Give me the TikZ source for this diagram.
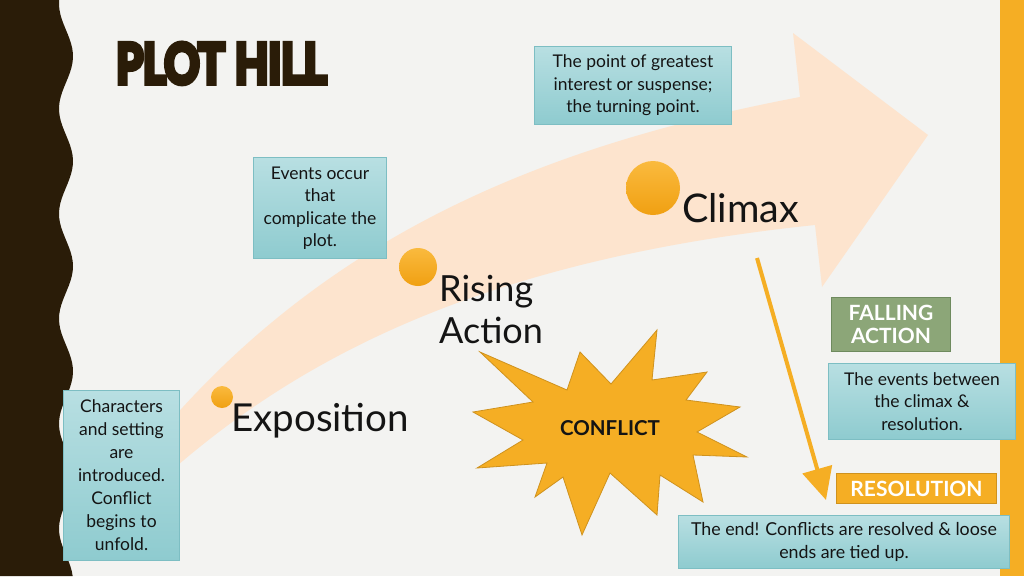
\documentclass[tikz,border=0pt]{standalone}
\usepackage{fontspec}
\setmainfont{Lato}
\usepackage{graphicx}
\usetikzlibrary{positioning}
\usetikzlibrary{arrows.meta}

\definecolor{slidebg}{HTML}{F3F3F1}
\definecolor{bark}{HTML}{2A1C08}
\definecolor{peach}{HTML}{FDE4CE}
\definecolor{amber}{HTML}{F5AE24}
\definecolor{amberlight}{HTML}{FABA3E}
\definecolor{amberdeep}{HTML}{F0A012}
\definecolor{amberline}{HTML}{CF921E}
\definecolor{tealtop}{HTML}{B8DFE2}
\definecolor{tealbot}{HTML}{8ECBCF}
\definecolor{tealline}{HTML}{7DBEC3}
\definecolor{sage}{HTML}{8CA678}
\definecolor{sageline}{HTML}{6E8A5E}
\definecolor{ink}{HTML}{141414}

% heavier strokes for the title
\newcommand{\heavytext}[1]{%
  \special{pdf:literal direct 2 Tr 1 w 0 j}#1\special{pdf:literal direct 0 Tr}}

\tikzset{
  note/.style = { draw=tealline, line width=1pt
                , top color=tealtop, bottom color=tealbot
                , anchor=north west, inner sep=0pt
                , align=center, text=ink
                , font=\fontsize{17.5}{22.5}\selectfont
                },
  dot/.style = { circle, inner sep=0pt
               , top color=amberlight, bottom color=amberdeep
               },
  stage/.style = { inner sep=0pt, text=ink },
  tag/.style = { anchor=north west, inner sep=0pt, line width=1pt
               , align=center, text=white
               , font=\bfseries\fontsize{21}{23}\selectfont
               },
  heading/.style = { anchor=north west, inner sep=0pt, text=bark },
}

\begin{document}
\begin{tikzpicture}[x=1pt, y=-1pt]

  \useasboundingbox (0,0) rectangle (1024,576);
  \fill [slidebg] (0,0) rectangle (1024,576);

  % wavy left border and right strip
  \fill [bark] (0,0) -- plot [domain=0:576, samples=120]
    ({66+7*sin((\x-30)/105*360)}, \x) -- (0,576) -- cycle;
  \fill [amber] (1000,0) rectangle (1024,576);

  % the hill
  \fill [peach] (150,490) .. controls (290,360) and (480,260) .. (815,225)
    -- (822,287) -- (928,135) -- (793,33) -- (800,97)
    .. controls (520,150) and (300,250) .. (130,470) -- cycle;

  \node (title) [heading] at (116,43)
    {\resizebox{210pt}{40pt}{\heavytext{\bfseries PLOT HILL}}};

  \node (expodot)  [dot, minimum size=22pt] at (222,397) {};
  \node (risedot)  [dot, minimum size=38pt] at (418,267) {};
  \node (climdot)  [dot, minimum size=54pt] at (653,188) {};

  \node (expo) [stage, anchor=base west, font=\fontsize{38.5}{42}\selectfont]
    at (231,431) {Exposition};
  \node (rise) [stage, anchor=north west, align=left,
                font=\fontsize{36}{42}\selectfont]
    at (439,275) {Rising\\Action};
  \node (climax) [stage, anchor=base west, font=\fontsize{39.5}{42}\selectfont]
    at (682,222) {Climax};

  % conflict burst
  \fill [amber, draw=amberline, line width=0.8pt]
    (480,352) -- (567,390) -- (580,352) -- (611,384) -- (657,330)
    -- (652,380) -- (707,372) -- (686,400) -- (740,407) -- (697,432)
    -- (747,457) -- (693,455) -- (703,502) -- (660,475) -- (657,515)
    -- (610,473) -- (582,535) -- (563,477) -- (535,497) -- (547,463)
    -- (477,468) -- (523,440) -- (473,412) -- (533,402) -- cycle;
  \node (conflict) [text=ink, font=\bfseries\fontsize{20.5}{22}\selectfont]
    at (610,428) {CONFLICT};

  \coordinate (dropstart) at (757,258);
  \coordinate (dropend) at (826,500);
  \draw [amber, line width=4pt, -{Triangle[length=32pt,width=30pt]}]
    (dropstart) -- (dropend);

  \node (setup) [note, minimum width=116pt, minimum height=170pt,
                 font=\fontsize{17.5}{23}\selectfont] at (63,390)
    {Characters\\and setting\\are\\introduced.\\Conflict\\begins to\\unfold.};
  \node (complicate) [note, minimum width=133pt, minimum height=101pt]
    at (253,157) {Events occur\\that\\complicate the\\plot.};
  \node (peak) [note, minimum width=197pt, minimum height=78pt]
    at (534,46) {The point of greatest\\interest or suspense;\\the turning point.};
  \node (between) [note, minimum width=187pt, minimum height=76pt]
    at (828,363) {The events between\\the climax \&\\resolution.};
  \node (ending) [note, minimum width=331pt, minimum height=53pt,
                  font=\fontsize{17.8}{23}\selectfont] at (678,515)
    {The end! Conflicts are resolved \& loose\\ends are tied up.};

  \node (falling) [tag, fill=sage, draw=sageline,
                   minimum width=119pt, minimum height=54pt]
    at (831,297) {FALLING\\ACTION};
  \node (resolution) [tag, fill=amber, draw=amberline,
                      minimum width=160pt, minimum height=30pt,
                      font=\bfseries\fontsize{21}{22}\selectfont]
    at (836,473) {RESOLUTION};

\end{tikzpicture}
\end{document}
